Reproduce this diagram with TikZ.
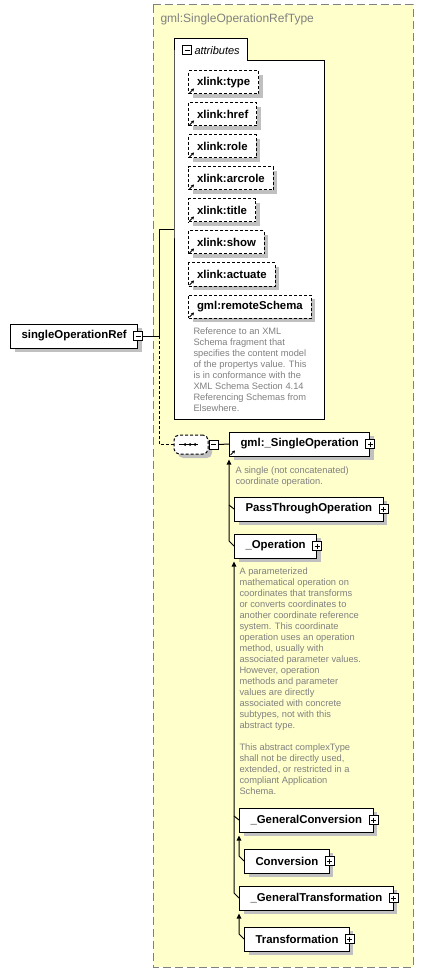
\documentclass[tikz,border=0pt]{standalone}
\usepackage{fontspec}
\setmainfont{Liberation Sans}
\usetikzlibrary{positioning, shadows, arrows.meta}

\definecolor{paneyellow}{HTML}{FFFFCC}
\definecolor{descgray}{HTML}{808080}
\definecolor{shadowgray}{HTML}{C0C0C0}

\begin{document}
\begin{tikzpicture}[
        x=1pt, y=-1pt, line width=1pt,
        boxshadow/.style={drop shadow={shadow xshift=4pt, shadow yshift=-4pt, fill=shadowgray, opacity=1}},
        elem/.style={draw, fill=white, anchor=west, font=\bfseries\fontsize{11.4}{13}\selectfont, minimum height=24pt, inner xsep=11pt, inner ysep=0pt, boxshadow},
        attr/.style={elem, dash pattern=on 3pt off 2pt, minimum height=23pt, inner xsep=8.5pt},
        minusbox/.style={draw, solid, fill=white, minimum size=9pt, inner sep=0pt, path picture={\draw ([xshift=2pt]path picture bounding box.west) -- ([xshift=-2pt]path picture bounding box.east);}},
        plusbox/.style={draw, fill=white, minimum size=9pt, inner sep=0pt, path picture={\draw ([xshift=2pt]path picture bounding box.west) -- ([xshift=-2pt]path picture bounding box.east); \draw ([yshift=-2pt]path picture bounding box.north) -- ([yshift=2pt]path picture bounding box.south);}},
        seqbox/.style={draw, fill=white, dash pattern=on 3pt off 2pt, rounded corners=5pt, minimum width=34pt, minimum height=19pt, boxshadow},
        desc/.style={anchor=north west, inner sep=0pt, align=left, text=descgray, font=\fontsize{9.3}{11}\selectfont},
        inherit/.style={arrows={Triangle[width=4.5pt,length=5pt]-}},
        refmark/.style={arrows={-Stealth[length=3pt,width=3.5pt]}},
        link/.style={dash pattern=on 3pt off 2pt}
    ]
        \useasboundingbox (0,0) rectangle (423,973);

        % Complex type frame
        \draw[fill=paneyellow, draw=descgray, dash pattern=on 8pt off 4pt] (153,5) rectangle (413,967);
        \node (title) [anchor=west, inner sep=0pt, text=descgray, font=\fontsize{12}{14}\selectfont] at (160,19) {gml:SingleOperationRefType};

        % Attribute group
        \draw[fill=white] (174,61) -- (174,39) -- (247,39) -- (247,61) -- (324,61) -- (324,419) -- (174,419) -- cycle;
        \node (attrminus) [minusbox] at (187,50.5) {};
        \node (attrlabel) [right=2pt of attrminus, inner sep=0pt, font=\itshape\fontsize{11}{13}\selectfont] {attributes};
        \coordinate (attrin) at (174,230);

        \node (xtype) [attr] at (188,82.5) {xlink:type};
        \node (xhref) [attr, below=8pt of xtype.south west, anchor=north west] {xlink:href};
        \node (xrole) [attr, below=8pt of xhref.south west, anchor=north west] {xlink:role};
        \node (xarcrole) [attr, below=8pt of xrole.south west, anchor=north west] {xlink:arcrole};
        \node (xtitle) [attr, below=8pt of xarcrole.south west, anchor=north west] {xlink:title};
        \node (xshow) [attr, below=8pt of xtitle.south west, anchor=north west] {xlink:show};
        \node (xactuate) [attr, below=8pt of xshow.south west, anchor=north west] {xlink:actuate};
        \node (remote) [attr, below=8pt of xactuate.south west, anchor=north west] {gml:remoteSchema};
        \node (remotedesc) [desc] at (193,327) {Reference to an XML\\ Schema fragment that\\ specifies the content model\\ of the propertys value. This\\ is in conformance with the\\ XML Schema Section 4.14\\ Referencing Schemas from\\ Elsewhere.};

        % Root element
        \node (sor) [elem] at (10,336) {singleOperationRef};
        \node (sorminus) [minusbox] at (sor.east) {};
        \coordinate (fork) at (159,336);

        % Sequence
        \node (seq) [seqbox] at (191,444.5) {};
        \draw ([xshift=-12pt]seq.center) -- ([xshift=7pt]seq.center);
        \fill ([xshift=-6pt]seq.center) circle (1.5pt);
        \fill ([xshift=-1pt]seq.center) circle (1.5pt);
        \fill ([xshift=4pt]seq.center) circle (1.5pt);
        \node (seqminus) [minusbox, anchor=west] at (seq.east) {};

        % Substitution group
        \node (sop) [elem] at (229,444) {gml:\_SingleOperation};
        \node (sopplus) [plusbox] at (sop.east) {};
        \node (sopdesc) [desc] at (235,466) {A single (not concatenated)\\ coordinate operation.};

        \node (pto) [elem] at (234,509) {PassThroughOperation};
        \node (ptoplus) [plusbox] at (pto.east) {};
        \node (op) [elem] at (234,546) {\_Operation};
        \node (opplus) [plusbox] at (op.east) {};
        \node (opdesc) [desc] at (239,567) {A parameterized\\ mathematical operation on\\ coordinates that transforms\\ or converts coordinates to\\ another coordinate reference\\ system. This coordinate\\ operation uses an operation\\ method, usually with\\ associated parameter values.\\ However, operation\\ methods and parameter\\ values are directly\\ associated with concrete\\ subtypes, not with this\\ abstract type.\\[11pt] This abstract complexType\\ shall not be directly used,\\ extended, or restricted in a\\ compliant Application\\ Schema.};

        \node (gcv) [elem] at (239,820) {\_GeneralConversion};
        \node (gcvplus) [plusbox] at (gcv.east) {};
        \node (conv) [elem] at (244,861) {Conversion};
        \node (convplus) [plusbox] at (conv.east) {};
        \node (gtr) [elem] at (239,898) {\_GeneralTransformation};
        \node (gtrplus) [plusbox] at (gtr.east) {};
        \node (tr) [elem] at (244,939) {Transformation};
        \node (trplus) [plusbox] at (tr.east) {};

        % Reference marks
        \draw[refmark] ([shift={(1.5,-1.5)}]xtype.south west) -- ++(4.5,-4.5);
        \draw[refmark] ([shift={(1.5,-1.5)}]xhref.south west) -- ++(4.5,-4.5);
        \draw[refmark] ([shift={(1.5,-1.5)}]xrole.south west) -- ++(4.5,-4.5);
        \draw[refmark] ([shift={(1.5,-1.5)}]xarcrole.south west) -- ++(4.5,-4.5);
        \draw[refmark] ([shift={(1.5,-1.5)}]xtitle.south west) -- ++(4.5,-4.5);
        \draw[refmark] ([shift={(1.5,-1.5)}]xshow.south west) -- ++(4.5,-4.5);
        \draw[refmark] ([shift={(1.5,-1.5)}]xactuate.south west) -- ++(4.5,-4.5);
        \draw[refmark] ([shift={(1.5,-1.5)}]remote.south west) -- ++(4.5,-4.5);
        \draw[refmark] ([shift={(1.5,-1.5)}]sop.south west) -- ++(4.5,-4.5);

        % Connectors
        \draw (sorminus.east) -- (fork) |- (attrin);
        \draw[link] (fork) |- (seq.west);
        \draw (seqminus.east) -- (sop.west);

        % Derivation lines
        \draw[inherit] ([yshift=-3pt]sop.south west) -- ([shift={(-5,-5)}]op.west) -- (op.west);
        \draw ([shift={(-5,-4)}]pto.west) -- (pto.west);
        \draw[inherit] ([yshift=-3pt]op.south west) -- ([shift={(-5,-5)}]gtr.west) -- (gtr.west);
        \draw ([shift={(-5,-4)}]gcv.west) -- (gcv.west);
        \draw[inherit] ([yshift=-3pt]gcv.south west) -- ([shift={(-5,-5)}]conv.west) -- (conv.west);
        \draw[inherit] ([yshift=-3pt]gtr.south west) -- ([shift={(-5,-5)}]tr.west) -- (tr.west);
    \end{tikzpicture}
\end{document}
